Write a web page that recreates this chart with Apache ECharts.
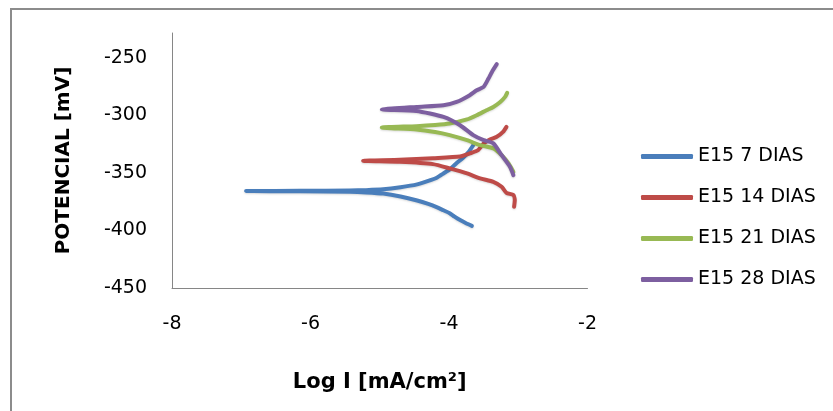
<!DOCTYPE html>
<html>
<head>
<meta charset="utf-8">
<script src="https://cdn.jsdelivr.net/npm/echarts@6/dist/echarts.min.js"></script>
<style>
  html, body { margin: 0; padding: 0; background: #fff; }
  #chart { width: 833px; height: 411px; }
</style>
</head>
<body>
<div id="chart"></div>
<script>
// Nombres de las series
var seriesNames = ['E15 7 DIAS', 'E15 14 DIAS', 'E15 21 DIAS', 'E15 28 DIAS'];
var seriesColors = ['#4a7ebb', '#be4b48', '#98b954', '#7d5fa0'];

// Datos [Log I, potencial]
var dias7 = [
  [-3.67, -396], [-3.76, -393.5], [-3.84, -391], [-3.92, -388], [-3.99, -385],
  [-4.08, -382.5], [-4.17, -380], [-4.30, -377], [-4.46, -374], [-4.70, -370.5],
  [-4.95, -368], [-5.20, -367], [-5.43, -366.5], [-6.15, -366], [-6.93, -365.8],
  [-6.15, -365.6], [-5.43, -365.3], [-5.20, -365], [-4.95, -364.3], [-4.70, -362.5],
  [-4.46, -360], [-4.30, -357], [-4.17, -354], [-4.08, -350.5], [-3.99, -347],
  [-3.90, -342], [-3.80, -337], [-3.72, -332], [-3.65, -326]
];
var dias14 = [
  [-3.06, -379.5], [-3.05, -373.6], [-3.07, -369.3], [-3.17, -367.3], [-3.24, -362.1],
  [-3.36, -357.8], [-3.55, -354.8], [-3.74, -350.5], [-3.99, -346.1], [-4.23, -342.4],
  [-4.71, -340.4], [-5.24, -339.5], [-4.71, -338.6], [-4.23, -337.2], [-3.84, -335.8],
  [-3.70, -333.1], [-3.58, -330.3], [-3.50, -324.4], [-3.41, -321], [-3.31, -318.7],
  [-3.22, -314.4], [-3.17, -310]
];
var dias21 = [
  [-3.07, -349.1], [-3.14, -341.8], [-3.24, -334.6], [-3.36, -328.8], [-3.55, -325.9],
  [-3.74, -321.6], [-3.99, -317.2], [-4.20, -314.5], [-4.47, -312.3], [-4.97, -310.6],
  [-4.47, -309.4], [-4.20, -308.4], [-3.99, -307.1], [-3.74, -303.6], [-3.60, -299.9],
  [-3.46, -295.6], [-3.36, -292.7], [-3.26, -288.4], [-3.19, -284.0], [-3.16, -280.5]
];
var dias28 = [
  [-3.07, -352.0], [-3.12, -344.7], [-3.24, -334.6], [-3.36, -324.4], [-3.50, -321.6],
  [-3.65, -317.2], [-3.84, -308.6], [-4.08, -301.4], [-4.47, -296.2], [-4.97, -295.0],
  [-4.47, -292.7], [-4.08, -291.2], [-3.89, -288.4], [-3.70, -282.5], [-3.60, -278.2],
  [-3.50, -275.3], [-3.43, -268.1], [-3.38, -262.3], [-3.31, -255.6]
];
var allData = [dias7, dias14, dias21, dias28];

// Marcas de los ejes
var xTicks = [-8, -6, -4, -2];
var yTicks = [-450, -400, -350, -300, -250];

var chartDom = document.getElementById('chart');
var myChart = echarts.init(chartDom);

var series = seriesNames.map(function (name, i) {
  return {
    name: name,
    type: 'line',
    data: allData[i],
    showSymbol: false,
    symbol: 'none',
    smooth: 0.2,
    color: seriesColors[i],
    lineStyle: {
      width: 4,
      color: seriesColors[i],
      cap: 'round',
      join: 'round',
      shadowBlur: 2,
      shadowColor: 'rgba(0,0,0,0.15)',
      shadowOffsetY: 1
    }
  };
});

var option = {
  animation: false,
  graphic: [{
    type: 'rect',
    shape: { x: 11, y: 9, width: 900, height: 500 },
    style: { fill: 'none', stroke: '#8c8c8c', lineWidth: 2 },
    silent: true
  }],
  grid: { left: 172, right: 245.5, top: 33, bottom: 123 },
  legend: {
    orient: 'vertical',
    left: 636,
    top: 142,
    itemWidth: 52,
    itemHeight: 5,
    itemGap: 22,
    icon: 'roundRect',
    data: seriesNames,
    textStyle: { fontFamily: 'DejaVu Sans', fontSize: 19, color: '#000' }
  },
  xAxis: {
    type: 'value',
    min: xTicks[0],
    max: xTicks[xTicks.length - 1],
    interval: 2,
    name: 'Log I [mA/cm²]',
    nameLocation: 'middle',
    nameGap: 84,
    nameTextStyle: { fontFamily: 'DejaVu Sans', fontWeight: 'bold', fontSize: 21, color: '#000' },
    axisLine: { lineStyle: { color: '#868686', width: 1 } },
    axisTick: { show: false },
    splitLine: { show: false },
    axisLabel: { fontFamily: 'DejaVu Sans', fontSize: 19, color: '#000', margin: 27 }
  },
  yAxis: {
    type: 'value',
    min: yTicks[0],
    max: -228.5,
    interval: 50,
    name: 'POTENCIAL [mV]',
    nameLocation: 'middle',
    nameGap: 98,
    nameRotate: 90,
    nameTextStyle: { fontFamily: 'DejaVu Sans', fontWeight: 'bold', fontSize: 20, color: '#000' },
    axisLine: { show: true, lineStyle: { color: '#868686', width: 1 } },
    axisTick: { show: false },
    splitLine: { show: false },
    axisLabel: {
      fontFamily: 'DejaVu Sans', fontSize: 19, color: '#000', margin: 25,
      formatter: function (v) { return yTicks.indexOf(v) >= 0 ? String(v) : ''; }
    }
  },
  series: series
};

myChart.setOption(option);
</script>
</body>
</html>
